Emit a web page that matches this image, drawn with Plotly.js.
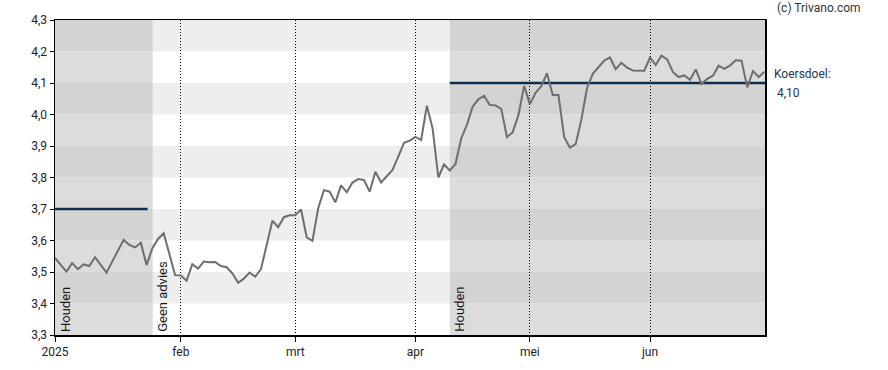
<!DOCTYPE html>
<html>
<head>
<meta charset="utf-8">
<script src="https://cdn.plot.ly/plotly-3.0.1.min.js"></script>
<style>html,body{margin:0;padding:0;background:#fff;}#chart{width:888px;height:370px;}</style>
</head>
<body>
<div id="chart"></div>
<script>
// Trading-day index of each close
const closes = [
  3.545, 3.523, 3.501, 3.528, 3.509, 3.524, 3.519, 3.547, 3.522, 3.498,
  3.533, 3.567, 3.602, 3.586, 3.578, 3.593, 3.522, 3.575, 3.605, 3.623,
  3.556, 3.490, 3.489, 3.472, 3.525, 3.511, 3.533, 3.531, 3.532, 3.519,
  3.515, 3.496, 3.466, 3.479, 3.498, 3.485, 3.509, 3.586, 3.663, 3.642,
  3.674, 3.680, 3.680, 3.699, 3.610, 3.599, 3.702, 3.760, 3.755, 3.721,
  3.775, 3.753, 3.784, 3.795, 3.792, 3.755, 3.818, 3.784, 3.803, 3.824,
  3.866, 3.910, 3.917, 3.929, 3.919, 4.028, 3.956, 3.800, 3.842, 3.822,
  3.843, 3.924, 3.967, 4.025, 4.048, 4.059, 4.030, 4.029, 4.018, 3.928,
  3.944, 3.998, 4.091, 4.033, 4.069, 4.090, 4.131, 4.062, 4.062, 3.928,
  3.895, 3.906, 3.983, 4.085, 4.129, 4.149, 4.171, 4.181, 4.144, 4.164,
  4.149, 4.140, 4.140, 4.139, 4.181, 4.157, 4.187, 4.175, 4.135, 4.119,
  4.124, 4.110, 4.143, 4.097, 4.113, 4.123, 4.155, 4.145, 4.156, 4.172,
  4.171, 4.086, 4.138, 4.119, 4.136
];
const dayIndex = closes.map((_, i) => i);

// Month ticks (trading-day index of first day of month)
const monthTickVals = [0, 22, 42, 63, 83, 104];
const monthTickText = ['2025', 'feb', 'mrt', 'apr', 'mei', 'jun'];

// Advice periods
const adviceStart = [0, 17.1, 69];
const adviceEnd = [17.1, 69, 124.1];
const adviceLabel = ['Houden', 'Geen advies', 'Houden'];
const adviceShaded = [true, false, true];

// Price targets
const targetValue = [3.70, 4.10];
const targetStart = [0, 69];
const targetEnd = [16.2, 124.1];
const targetLabel = 'Koersdoel:';
const targetLabelValue = '4,10';

const yMin = 3.3, yMax = 4.3, xMax = 124.1;

const traces = [];
targetValue.forEach((v, i) => {
  traces.push({
    x: [targetStart[i], targetEnd[i]], y: [v, v], mode: 'lines', type: 'scatter',
    line: {color: '#0d2f4f', width: 2.5}, hoverinfo: 'skip', showlegend: false
  });
});
traces.push({
  x: dayIndex, y: closes, mode: 'lines', type: 'scatter',
  line: {color: '#6e6e6e', width: 2}, showlegend: false
});

const shapes = [];
for (let k = 0; k < 10; k++) {
  const y0 = yMin + k * 0.1, y1 = y0 + 0.1;
  const alt = (k % 2 === 1);
  adviceStart.forEach((s, i) => {
    let col;
    if (adviceShaded[i]) col = alt ? '#d3d3d3' : '#dcdcdc';
    else col = alt ? '#eeeeee' : '#ffffff';
    shapes.push({type: 'rect', layer: 'below', xref: 'x', yref: 'y',
      x0: s, x1: adviceEnd[i], y0: y0, y1: y1, line: {width: 0}, fillcolor: col});
  });
}

const annotations = [];
adviceStart.forEach((s, i) => {
  annotations.push({
    xref: 'x', yref: 'y', x: s + 0.05, y: yMin + 0.004, text: adviceLabel[i],
    textangle: -90, showarrow: false, xanchor: 'left', yanchor: 'bottom',
    font: {family: 'Roboto', size: 13, color: '#1a1a1a'}
  });
});
annotations.push({xref: 'paper', yref: 'paper', x: 1.014, y: 1.038, xanchor: 'left', yanchor: 'middle',
  text: '(c) Trivano.com', showarrow: false, font: {family: 'Roboto', size: 12, color: '#333'}});
annotations.push({xref: 'paper', yref: 'y', x: 1.010, y: 4.129, xanchor: 'left', yanchor: 'middle',
  text: targetLabel, showarrow: false, font: {family: 'Roboto', size: 12, color: '#1f3550'}});
annotations.push({xref: 'paper', yref: 'y', x: 1.014, y: 4.068, xanchor: 'left', yanchor: 'middle',
  text: targetLabelValue, showarrow: false, font: {family: 'Roboto', size: 12, color: '#1f3550'}});

const layout = {
  width: 888, height: 370,
  margin: {l: 55, r: 123, t: 20, b: 35, pad: 0},
  paper_bgcolor: '#ffffff', plot_bgcolor: '#ffffff',
  separators: ',.',
  font: {family: 'Roboto', size: 12, color: '#222'},
  xaxis: {
    range: [0, xMax], tickmode: 'array', tickvals: monthTickVals, ticktext: monthTickText,
    showgrid: true, gridcolor: '#000', gridwidth: 1, griddash: '1px,2px',
    zeroline: false, showline: true, linecolor: '#000', linewidth: 1.5, mirror: true,
    ticks: 'outside', ticklen: 5, tickcolor: '#000', tickfont: {family: 'Roboto', size: 12, color: '#222'},
    fixedrange: true
  },
  yaxis: {
    range: [yMin, yMax], dtick: 0.1, tick0: 3.3, tickformat: '.1f',
    showgrid: false, zeroline: false, showline: true, linecolor: '#000', linewidth: 1.5, mirror: true,
    ticks: 'outside', ticklen: 4, tickcolor: '#000', tickfont: {family: 'Roboto', size: 12, color: '#222'},
    fixedrange: true
  },
  shapes: shapes,
  annotations: annotations,
  showlegend: false
};

Plotly.newPlot('chart', traces, layout, {displayModeBar: false, staticPlot: true});
</script>
</body>
</html>
